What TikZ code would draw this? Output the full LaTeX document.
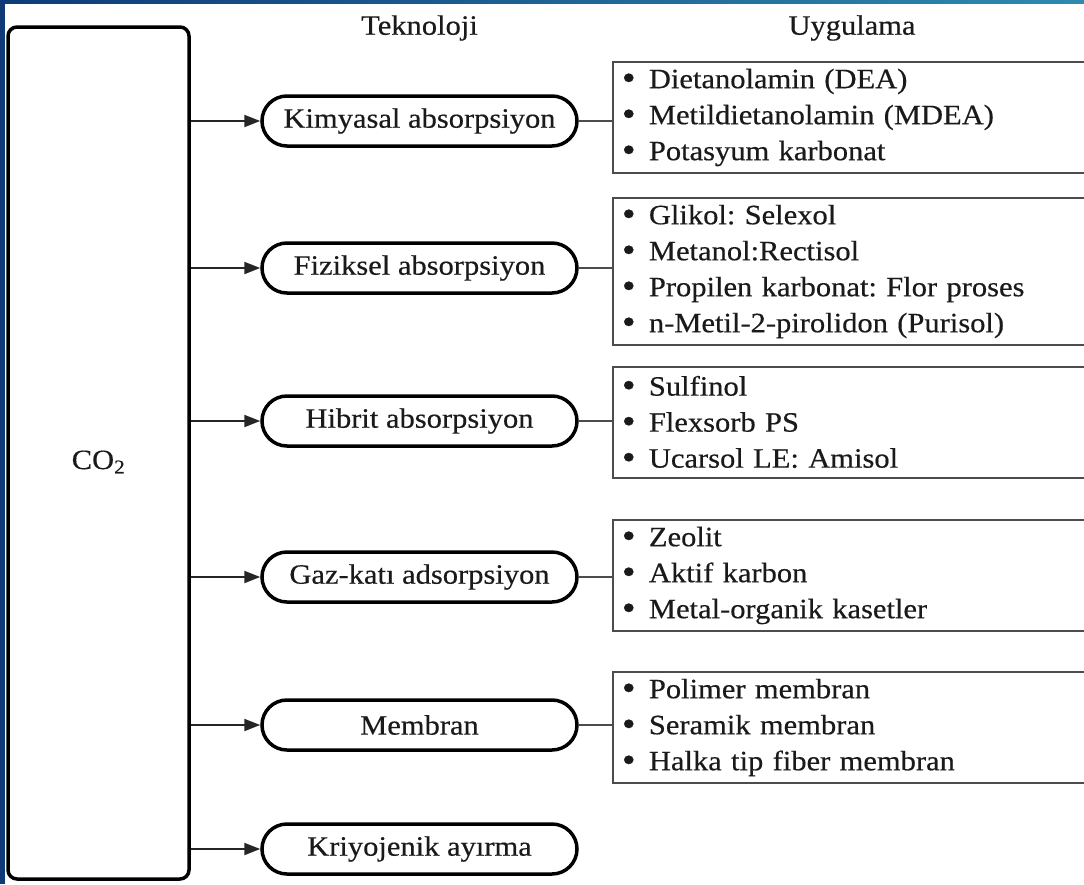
\documentclass[tikz,border=0pt]{standalone}
\usepackage{fontspec}
\setmainfont{Liberation Serif}[FakeStretch=1.09,FakeBold=0.4]
\usetikzlibrary{arrows.meta,shapes.misc}
\definecolor{framenavy}{HTML}{0E3B78}
\definecolor{frameteal}{HTML}{2E8AB0}
\definecolor{ink}{HTML}{1A1A1A}
\frenchspacing
\begin{document}
\begin{tikzpicture}[x=1pt,y=-1pt,
  every node/.style={font=\fontsize{28}{36}\selectfont, text=ink},
  tech/.style={draw=black, line width=3.5pt, rounded rectangle,
    minimum width=315pt, minimum height=50pt, inner sep=0pt},
  co2box/.style={draw=black, line width=3.5pt, rounded corners=9pt,
    minimum width=181pt, minimum height=852pt, inner sep=0pt},
  listbox/.style={draw=black!70, line width=1.8pt, anchor=west,
    minimum width=520pt, text width=502pt, align=left,
    inner xsep=9pt, inner ysep=0pt},
  feed/.style={line width=2pt, draw=black!85, -{Triangle[length=16pt,width=12pt]}},
  tie/.style={line width=1.8pt, draw=black!70}
]
% page and frame strips
\useasboundingbox (0,0) rectangle (1084,884);
\clip (0,0) rectangle (1084,884);
\fill[white] (0,0) rectangle (1084,884);
\fill[framenavy] (0,0) rectangle (5,884);
\shade[left color=framenavy, right color=frameteal] (0,0) rectangle (1084,3.5);

% column headings
\node (th) at (419.5,28) {Teknoloji};
\node (uh) at (852,28) {Uygulama};

% source box
\node[co2box, label={[yshift=-9pt]center:CO\textsubscript{2}}] (co2) at (98.5,453) {};

% technologies
\node[tech] (k1) at (419.5,121) {Kimyasal absorpsiyon};
\node[tech] (k2) at (419.5,268) {Fiziksel absorpsiyon};
\node[tech] (k3) at (419.5,421) {Hibrit absorpsiyon};
\node[tech] (k4) at (419.5,577) {Gaz-katı adsorpsiyon};
\node[tech] (k5) at (419.5,725) {Membran};
\node[tech] (k6) at (419.5,849) {Kriyojenik ayırma};

% applications
\newcommand{\itm}[1]{\makebox[27pt][l]{\raisebox{-1.5pt}{\fontsize{36}{36}\selectfont\textbullet}}#1}
\node[listbox, minimum height=111pt] (l1) at (612,117.5)
  {\itm{Dietanolamin (DEA)}\\ \itm{Metildietanolamin (MDEA)}\\ \itm{Potasyum karbonat}};
\node[listbox, minimum height=147pt] (l2) at (612,271.5)
  {\itm{Glikol: Selexol}\\ \itm{Metanol:Rectisol}\\ \itm{Propilen karbonat: Flor proses}\\ \itm{n-Metil-2-pirolidon (Purisol)}};
\node[listbox, minimum height=111pt] (l3) at (612,422.5)
  {\itm{Sulfinol}\\ \itm{Flexsorb PS}\\ \itm{Ucarsol LE: Amisol}};
\node[listbox, minimum height=111pt] (l4) at (612,575.5)
  {\itm{Zeolit}\\ \itm{Aktif karbon}\\ \itm{Metal-organik kasetler}};
\node[listbox, minimum height=111pt] (l5) at (612,727.5)
  {\itm{Polimer membran}\\ \itm{Seramik membran}\\ \itm{Halka tip fiber membran}};

% arrows from the source
\foreach \k in {k1,k2,k3,k4,k5,k6}
  \draw[feed] (co2.east |- \k.west) -- (\k.west);

% ties to the application lists
\foreach \k/\l in {k1/l1,k2/l2,k3/l3,k4/l4,k5/l5}
  \draw[tie] (\k.east) -- (\l.west |- \k.east);
\end{tikzpicture}
\end{document}
